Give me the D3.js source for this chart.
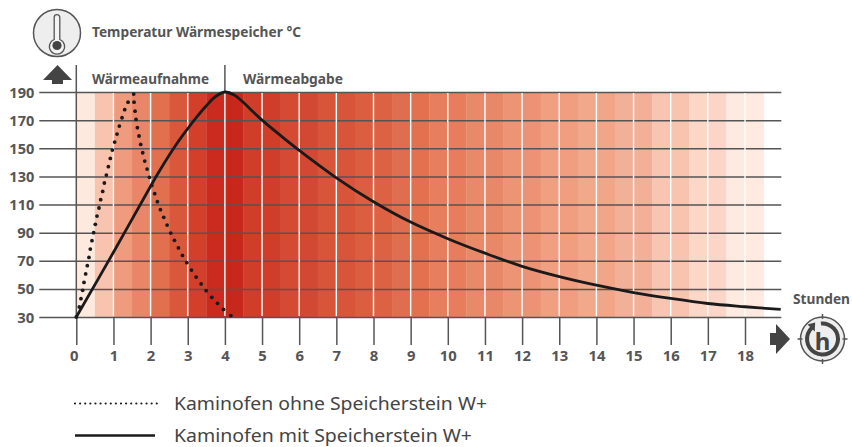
<!DOCTYPE html>
<html>
<head>
<meta charset="utf-8">
<script src="https://d3js.org/d3.v7.min.js"></script>
<style>
  html, body { margin: 0; padding: 0; background: #fff; }
  svg { display: block; }
  text { font-family: "Noto Sans", sans-serif; }
</style>
</head>
<body>
<svg width="852" height="447"></svg>
<script>
// half hour colour bands, 0 to 18.5 h
const bandColors = [
  "#fee9df", "#f8c4b0", "#ef9b7d", "#e9866a", "#e1704f", "#d9583b", "#d23f2a", "#ca2b1e",
  "#c8281c", "#d03d29", "#d03e2a", "#d54a33", "#d34832", "#d9553a", "#d9553a", "#dc5e41",
  "#dc6243", "#e06d4d", "#e2714f", "#e77e5e", "#e87d5e", "#e88a6a", "#e88868", "#ec9474",
  "#ec9375", "#f09f80", "#f09e7f", "#f2a88a", "#f2a587", "#f2b098", "#f2b098", "#f8c5b1",
  "#f8c4b0", "#fbd7c8", "#fbd6c8", "#feeae1", "#feeae1"
];
const hourTicks = d3.range(0, 19);
const tempTicks = [190, 170, 150, 130, 110, 90, 70, 50, 30];

// Kaminofen mit Speicherstein
const withHours = [0, 1, 2, 2.25, 2.5, 2.75, 3, 3.25, 3.5, 3.75, 4, 4.25, 4.5, 4.75, 5, 5.5, 6, 7, 8, 9, 10, 11, 12, 13, 14, 15, 16, 17, 18, 18.96];
const withTemps = [30, 76, 123, 134.3, 145, 155, 164, 172.5, 180.2, 186.8, 190, 187.8, 182.5, 176.2, 170, 159, 148.5, 129, 112, 97.5, 85.7, 75.4, 66, 58.7, 52.6, 47.4, 43.2, 39.6, 37.3, 35.4];

// Kaminofen ohne Speicherstein, one entry per dot
const withoutHours = [
  0, 0.081, 0.126, 0.171, 0.207, 0.252, 0.296, 0.341, 0.377, 0.422, 0.467, 0.512, 0.557, 0.611,
  0.656, 0.71, 0.755, 0.809, 0.863, 0.916, 0.97, 1.033, 1.096, 1.159, 1.231, 1.303, 1.393, 1.545,
  1.554, 1.581, 1.608, 1.644, 1.689, 1.734, 1.788, 1.842, 1.905, 1.968, 2.031, 2.111, 2.183, 2.264,
  2.354, 2.444, 2.543, 2.642, 2.749, 2.857, 2.974, 3.1, 3.226, 3.36, 3.495, 3.648, 3.801, 3.962, 4.16
];
const withoutTemps = [
  30, 37.1, 43, 49, 54.6, 60.6, 66.5, 72.4, 78.3, 84.3, 90, 95.9, 101.8, 107.5,
  113.4, 119.3, 125.3, 130.9, 136.9, 142.8, 148.7, 154.4, 160.1, 165.8, 171.7, 177.4, 182.8, 188.5,
  182.8, 176.4, 170.5, 164.6, 158.7, 152.7, 146.8, 140.9, 135.2, 129.3, 123.6, 117.7, 112, 106.3,
  100.9, 95.4, 89.7, 84.5, 79.1, 73.8, 68.6, 63.4, 58.4, 53.5, 48.7, 44, 39.7, 35.4, 31
];

const dark = "#555";
const ink = "#1a1a1a";

let svg = d3.select("svg");

let x = d3.scaleLinear().domain([0, 18]).range([76.3, 745]);
let y = d3.scaleLinear().domain([30, 190]).range([317, 92]);

// colour bands
svg.append("g")
  .selectAll("rect")
  .data(bandColors)
  .enter()
  .append("rect")
  .attr("x", (d, i) => x(i / 2))
  .attr("y", y(190))
  .attr("width", (d, i) => x((i + 1) / 2) - x(i / 2) + 0.3)
  .attr("height", y(30) - y(190))
  .attr("fill", d => d);

// temperature axis, ticks stretched over the whole plot
let yAxis = svg.append("g")
  .attr("transform", `translate(${x(0)},0)`)
  .call(d3.axisLeft(y).tickValues(tempTicks).tickSize(37).tickPadding(5));
yAxis.select(".domain").remove();
yAxis.selectAll("line")
  .attr("x1", 705)
  .attr("stroke", dark)
  .attr("stroke-width", 1.5);
yAxis.selectAll("text")
  .attr("fill", dark)
  .attr("font-size", 14.5)
  .attr("font-weight", 700)
  .attr("dy", "0.35em")
  .attr("textLength", d => (d > 99 ? 25 : 17))
  .attr("lengthAdjust", "spacingAndGlyphs");

// white hour lines inside the plot
svg.append("g")
  .selectAll("line")
  .data(hourTicks.slice(1))
  .enter()
  .append("line")
  .attr("x1", d => x(d))
  .attr("x2", d => x(d))
  .attr("y1", y(190) + 1)
  .attr("y2", y(30) - 1)
  .attr("stroke", "#fff")
  .attr("stroke-width", 1.4);

// hour axis
let xAxis = svg.append("g")
  .attr("transform", `translate(0,${y(30)})`)
  .call(d3.axisBottom(x).tickValues(hourTicks).tickSize(28).tickPadding(6));
xAxis.select(".domain").remove();
xAxis.selectAll("line")
  .attr("stroke", dark)
  .attr("stroke-width", 1.5);
xAxis.selectAll("text")
  .attr("fill", dark)
  .attr("font-size", 14.5)
  .attr("font-weight", 700)
  .attr("dx", d => (d === 0 ? -2.5 : 0))
  .attr("textLength", d => (d > 9 ? 17 : 8.5))
  .attr("lengthAdjust", "spacingAndGlyphs");

// vertical rules above and through the plot
svg.append("line")
  .attr("x1", x(0)).attr("x2", x(0))
  .attr("y1", 65).attr("y2", y(30))
  .attr("stroke", dark).attr("stroke-width", 1.5);
svg.append("line")
  .attr("x1", x(4)).attr("x2", x(4))
  .attr("y1", 65).attr("y2", y(190))
  .attr("stroke", dark).attr("stroke-width", 1.5);

// solid curve
let solidLine = d3.line()
  .x(d => x(d[0]))
  .y(d => y(d[1]))
  .curve(d3.curveCatmullRom.alpha(0.5));

svg.append("path")
  .attr("d", solidLine(d3.zip(withHours, withTemps)))
  .attr("fill", "none")
  .attr("stroke", ink)
  .attr("stroke-width", 2.8);

// dotted curve
svg.append("g")
  .selectAll("circle")
  .data(d3.zip(withoutHours, withoutTemps))
  .enter()
  .append("circle")
  .attr("cx", d => x(d[0]))
  .attr("cy", d => y(d[1]))
  .attr("r", 1.9)
  .attr("fill", ink);

// labels
function label(txt, px, py, len, size, weight, color) {
  svg.append("text")
    .attr("x", px)
    .attr("y", py)
    .attr("font-size", size)
    .attr("font-weight", weight)
    .attr("fill", color)
    .attr("textLength", len)
    .attr("lengthAdjust", "spacingAndGlyphs")
    .text(txt);
}
label("Temperatur Wärmespeicher °C", 92, 37, 209, 14.5, 700, dark);
label("Wärmeaufnahme", 92, 84, 117, 14.5, 700, dark);
label("Wärmeabgabe", 243, 84, 100, 14.5, 700, dark);
label("Stunden", 793, 304, 57, 14.5, 700, dark);
label("Kaminofen ohne Speicherstein W+", 174, 410, 313, 18, 400, "#444");
label("Kaminofen mit Speicherstein W+", 174, 441.5, 298, 18, 400, "#444");

// legend lines
svg.append("line")
  .attr("x1", 75).attr("x2", 157).attr("y1", 403.5).attr("y2", 403.5)
  .attr("stroke", ink).attr("stroke-width", 2.2)
  .attr("stroke-linecap", "round").attr("stroke-dasharray", "0.01 5.1");
svg.append("line")
  .attr("x1", 75).attr("x2", 155).attr("y1", 435.5).attr("y2", 435.5)
  .attr("stroke", ink).attr("stroke-width", 2.6);

// arrows
svg.append("path")
  .attr("d", "M57.5,65 L72,80 L63,80 L63,84 L52,84 L52,80 L43,80 Z")
  .attr("fill", "#444");
svg.append("path")
  .attr("d", "M790,339 L776,324 L776,333 L770,333 L770,345 L776,345 L776,354 Z")
  .attr("fill", "#444");

// thermometer icon
let thermo = svg.append("g").attr("transform", "translate(57,33)");
thermo.append("circle")
  .attr("r", 23.5)
  .attr("fill", "#eee")
  .attr("stroke", dark)
  .attr("stroke-width", 1.5);
thermo.append("path")
  .attr("d", "M-2.8,6.5 L-2.8,-15.5 A2.8,2.8 0 0 1 2.8,-15.5 L2.8,6.5 A7.6,7.6 0 1 1 -2.8,6.5 Z")
  .attr("fill", "#f4f4f4")
  .attr("stroke", dark)
  .attr("stroke-width", 1.3);
thermo.append("circle")
  .attr("cy", 12.5)
  .attr("r", 4.6)
  .attr("fill", "#444");

// clock icon
let clock = svg.append("g").attr("transform", "translate(822.5,339)");
clock.append("circle")
  .attr("r", 22)
  .attr("fill", "#eee")
  .attr("stroke", dark)
  .attr("stroke-width", 1.5);
clock.selectAll("line")
  .data([0, 90, 180, 270])
  .enter()
  .append("line")
  .attr("y1", -20)
  .attr("y2", -25)
  .attr("transform", d => `rotate(${d})`)
  .attr("stroke", dark)
  .attr("stroke-width", 1.5);
clock.append("path")
  .attr("d", d3.arc()({ innerRadius: 13.5, outerRadius: 17.5, startAngle: -0.1, endAngle: 2 * Math.PI - 0.75 }))
  .attr("fill", "#444");
clock.append("path")
  .attr("d", "M-7.3,-16.5 L-15,-14.5 L-7.8,-7.5 Z")
  .attr("fill", "#444");
clock.append("text")
  .attr("text-anchor", "middle")
  .attr("y", 10.5)
  .attr("font-size", 24)
  .attr("font-weight", 700)
  .attr("fill", "#444")
  .text("h");
</script>
</body>
</html>
